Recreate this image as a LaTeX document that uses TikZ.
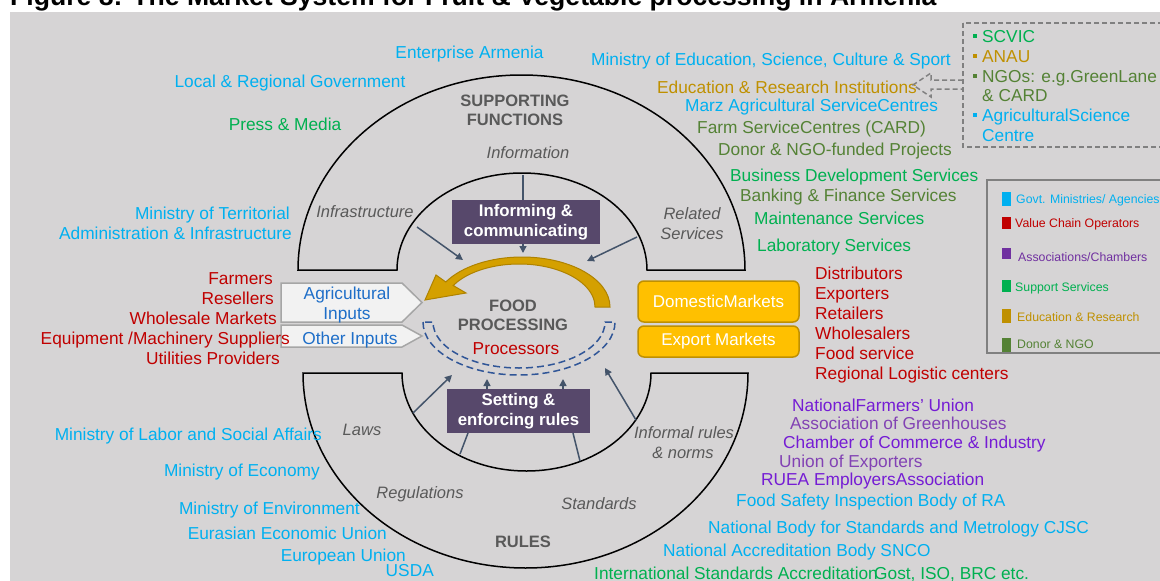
\documentclass[tikz,border=0pt]{standalone}
\usepackage{fontspec}
\setmainfont{Liberation Sans}
\usetikzlibrary{arrows.meta,calc}
\definecolor{bggray}{RGB}{214,212,213}
\definecolor{govblue}{RGB}{0,176,240}
\definecolor{vcred}{RGB}{192,0,0}
\definecolor{assocpurple}{RGB}{112,48,160}
\definecolor{brightviolet}{RGB}{117,28,212}
\definecolor{mutedviolet}{RGB}{130,66,180}
\definecolor{suppgreen}{RGB}{0,176,80}
\definecolor{edugold}{RGB}{191,144,0}
\definecolor{donorgreen}{RGB}{84,130,53}
\definecolor{labelgray}{RGB}{89,89,89}
\definecolor{boxpurple}{RGB}{87,72,107}
\definecolor{arrowslate}{RGB}{68,84,106}
\definecolor{inputblue}{RGB}{30,110,200}
\definecolor{dashblue}{RGB}{47,85,151}
\definecolor{marketfill}{RGB}{255,192,0}
\definecolor{marketdraw}{RGB}{191,144,0}
\definecolor{yarrow}{RGB}{212,160,0}
\definecolor{yarrowdark}{RGB}{175,130,0}
\definecolor{inputfill}{RGB}{242,242,242}
\definecolor{inputdraw}{RGB}{166,166,166}
\definecolor{framegray}{RGB}{128,128,128}
\tikzset{
  t/.style={inner sep=0pt, font=\fontsize{17.3}{20}\selectfont},
  it/.style={inner sep=0pt, font=\fontsize{16.5}{20}\selectfont\itshape, text=labelgray},
  hd/.style={inner sep=0pt, font=\fontsize{16.5}{20}\selectfont\bfseries, text=labelgray},
  leg/.style={inner sep=0pt, font=\fontsize{12.3}{14}\selectfont, anchor=base west},
  arr/.style={draw=arrowslate, line width=1.5pt, -{Triangle[length=7pt,width=7pt]}},
  ln/.style={draw=arrowslate, line width=1.5pt},
  pbox/.style={fill=boxpurple, text=white, inner sep=0pt, align=center,
    font=\fontsize{16.8}{19.5}\selectfont\bfseries},
  mbox/.style={fill=marketfill, draw=marketdraw, line width=1.5pt, rounded corners=6pt,
    text=white, inner sep=0pt, minimum width=161pt, font=\fontsize{17}{20}\selectfont},
  inbox/.style={fill=inputfill, draw=inputdraw, line width=1.5pt},
  ring/.style={draw=black, line width=1.5pt},
}
\begin{document}
\begin{tikzpicture}[x=1pt,y=-1pt]
\useasboundingbox (0,0) rectangle (1160,581);
\clip (0,0) rectangle (1160,581);
\fill[white] (0,0) rectangle (1160,581);
\fill[bggray] (10,12) rectangle (1165,590);
\node[inner sep=0pt, anchor=base west, font=\fontsize{26.6}{30}\selectfont\bfseries] (title) at (10,5) {Figure 8: The Market System for Fruit \& Vegetable processing in Armenia};

% rings
\draw[ring] (298,270) arc[start angle=180, end angle=360, x radius=223.5, y radius=195] -- (647,270) arc[start angle=0, end angle=-180, x radius=125, y radius=97] -- cycle;
\draw[ring] (303,373) arc[start angle=180, end angle=0, x radius=222.5, y radius=195] -- (651,373) arc[start angle=0, end angle=180, x radius=124.5, y radius=98] -- cycle;

% yellow curved arrow
\filldraw[fill=yarrow, draw=yarrowdark, line width=1pt] (610,307) arc[start angle=0, end angle=-150, x radius=88, y radius=50] -- (436,275) -- (425,300) -- (466,293) -- (453.2,285.5) arc[start angle=-150, end angle=0, x radius=76, y radius=43] -- cycle;

% dashed double arc
\draw[dashblue, line width=1.5pt, dash pattern=on 7pt off 4pt] (423,322) arc[start angle=180, end angle=0, x radius=96, y radius=53] -- (605,322) arc[start angle=0, end angle=180, x radius=86, y radius=46] -- cycle;

% purple boxes
\node[pbox, minimum width=148pt, minimum height=44pt] (inform) at (526,222) {Informing \&\\communicating};
\node[pbox, minimum width=143pt, minimum height=44pt] (setting) at (518.5,411) {Setting \&\\enforcing rules};

% supporting arrows
\coordinate (infoTop) at (523,175);
\coordinate (infoTip) at (523,253);
\coordinate (infraStart) at (417,227);
\coordinate (infraTip) at (463,260);
\coordinate (relStart) at (637,237);
\coordinate (relTip) at (587,261);
\draw[ln] (infoTop) -- (infoTop |- inform.north);
\draw[arr] (infoTip |- inform.south) -- (infoTip);
\draw[arr] (infraStart) -- (infraTip);
\draw[arr] (relStart) -- (relTip);

% rules arrows
\coordinate (lawStart) at (413,413);
\coordinate (lawTip) at (452,375);
\coordinate (setTipL) at (487,379);
\coordinate (setTipR) at (563,379);
\coordinate (regStart) at (460,454);
\coordinate (regEnd) at (468,433);
\coordinate (stdStart) at (580,461);
\coordinate (stdEnd) at (573,433);
\coordinate (infStart) at (636,420);
\coordinate (infTip) at (605,368);
\draw[arr] (lawStart) -- (lawTip);
\draw[arr] (setTipL |- setting.north) -- (setTipL);
\draw[arr] (setTipR |- setting.north) -- (setTipR);
\draw[ln] (regStart) -- (regEnd);
\draw[ln] (stdStart) -- (stdEnd);
\draw[arr] (infStart) -- (infTip);

% input pentagons
\draw[inbox] (281,283) -- (402,283) -- (422,302.5) -- (402,322) -- (281,322) -- cycle;
\draw[inbox] (281,325) -- (402,325) -- (422,336) -- (402,347) -- (281,347) -- cycle;
\node[t, anchor=base, text=inputblue] (agri1) at (347,299) {Agricultural};
\node[t, anchor=base, text=inputblue] (agri2) at (347,319) {Inputs};
\node[t, anchor=base, text=inputblue] (other) at (350,344) {Other Inputs};

% market boxes
\node[mbox, minimum height=41pt] (domestic) at (718.5,301.5) {DomesticMarkets};
\node[mbox, minimum height=31pt] (export) at (718.5,341.5) {Export Markets};

% centre labels
\node[hd, anchor=base] (sup1) at (515,106) {SUPPORTING};
\node[hd, anchor=base] (sup2) at (515,125) {FUNCTIONS};
\node[it, anchor=base] (information) at (528,158) {Information};
\node[it, anchor=base] (infra) at (365,217) {Infrastructure};
\node[it, anchor=base] (rel1) at (692,219) {Related};
\node[it, anchor=base] (rel2) at (692,239) {Services};
\node[hd, anchor=base] (food1) at (513,311) {FOOD};
\node[hd, anchor=base] (food2) at (513,330) {PROCESSING};
\node[t, anchor=base, text=vcred] (processors) at (516,354) {Processors};
\node[it, anchor=base] (laws) at (362,435) {Laws};
\node[it, anchor=base] (regs) at (420,498) {Regulations};
\node[it, anchor=base] (stds) at (599,509) {Standards};
\node[it, anchor=base] (infr1) at (684,438) {Informal rules};
\node[it, anchor=base] (infr2) at (683,458) {\& norms};
\node[hd, anchor=base] (rules) at (523,547) {RULES};

% top left
\node[t, anchor=base, text=govblue] (entarm) at (469.5,58) {Enterprise Armenia};
\node[t, anchor=base, text=govblue] (localgov) at (290,87) {Local \& Regional Government};
\node[t, anchor=base, text=suppgreen] (press) at (285,130) {Press \& Media};
\node[t, anchor=base east, text=govblue] (terr1) at (290,219) {Ministry of Territorial};
\node[t, anchor=base east, text=govblue] (terr2) at (292,239) {Administration \& Infrastructure};

% top right
\node[t, anchor=base west, text=govblue] (mined) at (591,65) {Ministry of Education, Science, Culture \& Sport};
\node[t, anchor=base west, text=edugold] (edures) at (657,93) {Education \& Research Institutions};
\node[t, anchor=base west, text=govblue] (marz) at (685,111) {Marz Agricultural ServiceCentres};
\node[t, anchor=base west, text=donorgreen] (farmsc) at (697,133) {Farm ServiceCentres (CARD)};
\node[t, anchor=base west, text=donorgreen] (donor) at (718,155) {Donor \& NGO-funded Projects};
\node[t, anchor=base west, text=suppgreen] (bds) at (730,181) {Business Development Services};
\node[t, anchor=base west, text=donorgreen] (bank) at (740,201) {Banking \& Finance Services};
\node[t, anchor=base west, text=suppgreen] (maint) at (754,224) {Maintenance Services};
\node[t, anchor=base west, text=suppgreen] (lab) at (757,251) {Laboratory Services};

% dashed box
\draw[framegray, line width=1.5pt, dash pattern=on 5pt off 3pt] (963,23) rectangle (1175,147);
\draw[framegray, line width=1.5pt, dash pattern=on 5pt off 3pt] (963,80) -- (931,80) -- (931,73) -- (913,85) -- (931,97) -- (931,89) -- (963,89);
\fill[suppgreen] (973,34) rectangle (977,38);
\fill[edugold] (973,54) rectangle (977,58);
\fill[donorgreen] (973,74) rectangle (977,78);
\fill[govblue] (973,113) rectangle (977,117);
\node[t, anchor=base west, text=suppgreen] (scvic) at (982,42) {SCVIC};
\node[t, anchor=base west, text=edugold] (anau) at (982,62) {ANAU};
\node[t, anchor=base west, text=donorgreen] (ngo1) at (982,82) {NGOs: e.g.GreenLane};
\node[t, anchor=base west, text=donorgreen] (ngo2) at (982,101) {\& CARD};
\node[t, anchor=base west, text=govblue] (asc1) at (982,121) {AgriculturalScience};
\node[t, anchor=base west, text=govblue] (asc2) at (982,141) {Centre};

% legend
\draw[framegray, line width=1.5pt] (987,180) rectangle (1175,353);
\fill[govblue] (1002,192) rectangle (1011,206);
\fill[vcred] (1002,217) rectangle (1011,229);
\fill[assocpurple] (1002,248) rectangle (1011,259);
\fill[suppgreen] (1002,280) rectangle (1011,292);
\fill[edugold] (1002,309) rectangle (1011,323);
\fill[donorgreen] (1002,338) rectangle (1011,352);
\node[leg, text=govblue] (lg1) at (1016,203.5) {Govt. Ministries/ Agencies};
\node[leg, text=vcred] (lg2) at (1015,227.5) {Value Chain Operators};
\node[leg, text=assocpurple] (lg3) at (1018,261.5) {Associations/Chambers};
\node[leg, text=suppgreen] (lg4) at (1015,291.5) {Support Services};
\node[leg, text=edugold] (lg5) at (1017,321.5) {Education \& Research};
\node[leg, text=donorgreen] (lg6) at (1017,348.5) {Donor \& NGO};

% left value chain
\node[t, anchor=base east, text=vcred] (farmers) at (273,284) {Farmers};
\node[t, anchor=base east, text=vcred] (resellers) at (274,304) {Resellers};
\node[t, anchor=base east, text=vcred] (wholesale) at (277,324) {Wholesale Markets};
\node[t, anchor=base east, text=vcred] (equip) at (290,344) {Equipment /Machinery Suppliers};
\node[t, anchor=base east, text=vcred] (util) at (280,364) {Utilities Providers};

% right value chain
\node[t, anchor=base west, text=vcred] (distr) at (815,279) {Distributors};
\node[t, anchor=base west, text=vcred] (exporters) at (815,299) {Exporters};
\node[t, anchor=base west, text=vcred] (retail) at (815,319) {Retailers};
\node[t, anchor=base west, text=vcred] (wholesalers) at (815,339) {Wholesalers};
\node[t, anchor=base west, text=vcred] (foodserv) at (815,359) {Food service};
\node[t, anchor=base west, text=vcred] (logistic) at (815,379) {Regional Logistic centers};

% bottom left
\node[t, anchor=base east, text=govblue] (labor) at (322,440) {Ministry of Labor and Social Affairs};
\node[t, anchor=base east, text=govblue] (economy) at (320,476) {Ministry of Economy};
\node[t, anchor=base east, text=govblue] (environ) at (360,514) {Ministry of Environment};
\node[t, anchor=base east, text=govblue] (eaeu) at (387,539) {Eurasian Economic Union};
\node[t, anchor=base east, text=govblue] (eu) at (406,561) {European Union};
\node[t, anchor=base east, text=govblue] (usda) at (434,576) {USDA};

% bottom right
\node[t, anchor=base west, text=brightviolet] (nfu) at (792,411) {NationalFarmers' Union};
\node[t, anchor=base west, text=mutedviolet] (greenh) at (790,429) {Association of Greenhouses};
\node[t, anchor=base west, text=brightviolet] (chamber) at (783,448) {Chamber of Commerce \& Industry};
\node[t, anchor=base west, text=mutedviolet] (unionexp) at (779,467) {Union of Exporters};
\node[t, anchor=base west, text=brightviolet] (ruea) at (761,485) {RUEA EmployersAssociation};
\node[t, anchor=base west, text=govblue] (fsib) at (736,506) {Food Safety Inspection Body of RA};
\node[t, anchor=base west, text=govblue] (nbsm) at (708,533) {National Body for Standards and Metrology CJSC};
\node[t, anchor=base west, text=govblue] (nab) at (663,556) {National Accreditation Body SNCO};
\node[t, anchor=base west, text=suppgreen] (isa) at (594,579) {International Standards Accreditation};
\node[t, anchor=base west, text=suppgreen] (gost) at (874,579) {Gost, ISO, BRC etc.};
\end{tikzpicture}
\end{document}
